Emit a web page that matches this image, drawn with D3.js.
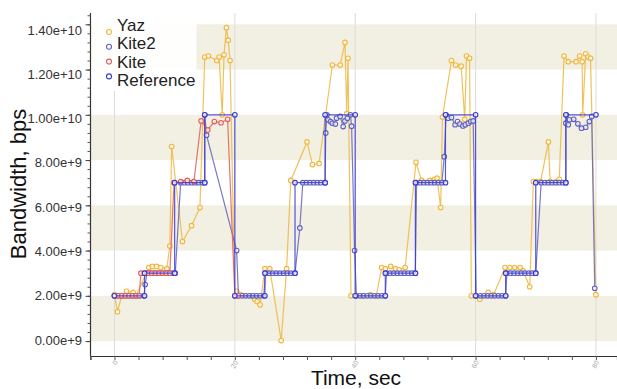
<!DOCTYPE html>
<html>
<head>
<meta charset="utf-8">
<script src="https://cdn.jsdelivr.net/npm/d3@7"></script>
<style>
  body { margin: 0; background: #fff; }
  svg { display: block; font-family: "Liberation Sans", Arial, sans-serif; }
</style>
</head>
<body>
<script>
// values in Gbps, time in sec
var yaz = [[0,2.05],[0.5,1.3],[1.2,2.0],[2.0,2.2],[3.1,2.15],[3.6,2.0],[5.7,3.25],[6.3,3.3],[7.0,3.3],[7.7,3.25],[8.7,3.2],[9.2,4.2],[9.5,8.6],[11.3,4.4],[12.8,5.1],[14.2,5.9],[15.0,12.55],[15.6,12.6],[17.0,12.4],[17.4,12.55],[17.9,10.0],[18.2,12.65],[18.6,13.85],[18.9,13.3],[19.2,12.4],[20.0,2.0],
  [20.3,2.2],[22.8,2.0],[23.3,1.85],[23.7,1.75],[24.2,1.6],[25.0,3.2],[25.8,3.2],[27.7,0.02],[28.6,3.2],[29.3,7.1],[32.0,8.8],[32.9,7.8],[34.0,7.85],[36.2,12.2],[37.5,12.2],[38.3,13.2],[38.6,10.05],[38.8,12.5],[39.3,2.0],
  [40.1,2.0],[41.2,2.0],[42.5,2.05],[43.5,2.0],[44.4,3.25],[45.0,3.2],[45.9,3.3],[46.7,3.2],[47.3,3.15],[48.3,3.25],[50.1,7.9],[51.0,7.1],[52.4,7.1],[53.2,7.15],[53.6,7.2],[54.2,5.9],[54.5,9.9],[56.0,12.4],[56.7,12.2],[57.6,12.15],[58.2,9.8],[58.5,12.6],[59.0,12.5],[59.3,2.0],
  [60.0,2.0],[60.7,1.85],[62.1,2.15],[63.0,2.05],[64.9,3.25],[65.7,3.25],[66.5,3.25],[67.4,3.25],[67.9,3.1],[69.0,2.4],[69.6,7.05],[70.2,7.05],[70.8,7.05],[72.1,8.8],[72.4,7.05],[73.4,7.05],[73.9,7.15],[74.7,12.6],[75.4,12.35],[76.7,12.35],[77.3,12.6],[77.7,12.35],[77.8,10.0],[78.3,12.7],[78.7,12.55],[79.1,12.5],[80.0,2.05]];

var kite2 = [[0,2],[0.6,2],[1.2,2],[1.8,2],[2.4,2],[3.0,2],[3.6,2],[4.2,2],[4.9,2],[5.1,2.5],[5.4,3],[6.0,3],[6.6,3],[7.2,3],[7.8,3],[8.4,3],[9.0,3],[9.6,3],[10.1,3],[11.0,7],[11.6,7],[12.2,7],[12.8,7],[13.4,7],[14.0,7],[14.6,7],[15.0,7],[15.0,10],[15.3,9.1],[20.3,4.0],
  [20.6,2],[21.2,2],[21.8,2],[22.4,2],[23.0,2],[23.6,2],[24.2,2],[24.8,2],[25.1,3],[25.7,3],[26.3,3],[26.9,3],[27.5,3],[28.1,3],[28.7,3],[29.3,3],[30.0,3],[30.8,5.0],[31.3,7],[31.9,7],[32.5,7],[33.1,7],[33.7,7],[34.3,7],[35.0,7],[35.1,9.2],[35.3,10],[35.5,9.78],[35.9,9.7],[36.2,9.63],[36.7,9.59],[36.9,9.85],[37.5,9.93],[38.0,9.48],[38.3,9.73],[38.7,9.85],[39.2,10.0],[39.4,9.5],[39.9,4.0],
  [40.2,2],[40.8,2],[41.4,2],[42.0,2],[42.6,2],[43.2,2],[43.8,2],[44.4,2],[45.0,2],[45.2,3],[45.8,3],[46.4,3],[47.0,3],[47.6,3],[48.2,3],[48.8,3],[49.4,3],[50.0,3],[50.2,7],[50.8,7],[51.4,7],[52.0,7],[52.6,7],[53.2,7],[53.8,7],[54.4,7],[54.8,8.15],[55.1,10],[55.45,9.85],[56.0,9.88],[56.6,9.56],[57.0,9.7],[57.4,9.59],[57.9,9.51],[58.3,9.56],[58.8,9.63],[59.2,9.7],[59.6,9.73],
  [60.1,2],[60.8,2],[61.4,2],[62.0,2],[62.6,2],[63.2,2],[63.8,2],[64.4,2],[65.0,2],[65.2,3],[65.8,3],[66.4,3],[67.0,3],[67.6,3],[68.2,3],[68.8,3],[69.4,3],[70.0,3],[70.9,7],[71.5,7],[72.1,7],[72.7,7],[73.3,7],[73.9,7],[74.5,7],[75.0,7],[75.0,9.63],[75.1,10],[75.4,9.56],[75.6,9.78],[76.3,9.8],[77.0,9.6],[77.6,9.41],[78.3,9.45],[78.9,9.7],[79.3,9.93],[79.8,2.33]];

var kite = [[0,2],[0.6,2],[1.2,2],[1.8,2],[2.4,2],[3.0,2],[3.6,2],[4.1,2],[4.4,3],[5.0,3],[5.6,3],[6.2,3],[6.8,3],[7.4,3],[8.0,3],[8.6,3],[9.2,3],[9.9,7.0],[11.0,7.05],[12.1,7.1],[13.2,7.05],[14.4,9.73],[15.5,9.33],[16.6,9.7],[17.7,9.65],[18.8,9.8],[20.0,2.0],[20.6,2.0]];

var reference = [[0,2],[5,2],[5,3],[10,3],[10,7],[15,7],[15,10],[20,10],[20,2],[25,2],[25,3],[30,3],[30,7],[35,7],[35,10],[40,10],[40,2],[45,2],[45,3],[50,3],[50,7],[55,7],[55,10],[60,10],[60,2],[65,2],[65,3],[70,3],[70,7],[75,7],[75,10],[80,10]];

var seriesNames = ["Yaz", "Kite2", "Kite", "Reference"];
var seriesColors = ["#efb73e", "#6161bd", "#e45c5c", "#3a3ad2"];
var xTicks = [0, 20, 40, 60, 80];
var yTicks = [0, 2, 4, 6, 8, 10, 12, 14];
var yTickLabels = ["0.00e+9", "2.00e+9", "4.00e+9", "6.00e+9", "8.00e+9", "1.00e+10", "1.20e+10", "1.40e+10"];
var bandStarts = [0, 4, 8, 12];

var W = 617, H = 389;
var svg = d3.select("body").append("svg").attr("width", W).attr("height", H);

var x = d3.scaleLinear().domain([-4, 83.5]).range([90.4, 617]);
var y = d3.scaleLinear().domain([-0.66e9, 14.5e9]).range([356, 13]);
// tick labels sit on a slightly tighter spacing in the original
var yLab = d3.scaleLinear().domain([0, 14e9]).range([340, 30]);

// bands
svg.append("g").selectAll("rect").data(bandStarts).join("rect")
  .attr("x", x(-4)).attr("width", W - x(-4))
  .attr("y", function(d) { return y((d + 2) * 1e9); })
  .attr("height", function(d) { return y(d * 1e9) - y((d + 2) * 1e9); })
  .attr("fill", "#f1f0e2");

// vertical grid
svg.append("g").selectAll("line").data(xTicks).join("line")
  .attr("x1", function(d) { return x(d); }).attr("x2", function(d) { return x(d); })
  .attr("y1", 13).attr("y2", 356)
  .attr("stroke", "#dcdcdc").attr("stroke-width", 1);

// x axis
var xMinor = d3.range(-4, 84, 4);
var xAxis = svg.append("g").attr("transform", "translate(0,356)")
  .call(d3.axisBottom(x).tickValues(xMinor).tickSize(4).tickFormat(""));
xAxis.select(".domain").attr("stroke", "#333").attr("stroke-width", 1.2);
xAxis.selectAll(".tick line").attr("stroke", "#555");
svg.append("g").selectAll("text").data(xTicks).join("text")
  .attr("transform", function(d) { return "translate(" + (x(d) + 1.5) + ",361) rotate(-60)"; })
  .attr("text-anchor", "end").attr("dy", "0.35em")
  .attr("font-size", 7).attr("fill", "#aaa")
  .text(function(d) { return d; });

// y axis: ticks
var yMinor = d3.range(0, 14.5, 0.4).map(function(v) { return v * 1e9; });
var yAxis = svg.append("g").attr("transform", "translate(90.5,0)")
  .call(d3.axisLeft(y).tickValues(yMinor).tickSize(3).tickFormat(""));
yAxis.select(".domain").attr("stroke", "#333").attr("stroke-width", 1.2).attr("d", "M0,13V356");
yAxis.selectAll(".tick line").attr("stroke", "#555");
svg.append("g").attr("transform", "translate(90.5,0)")
  .call(d3.axisLeft(y).tickValues(yTicks.map(function(v) { return v * 1e9; })).tickSize(5).tickFormat(""))
  .call(function(g) { g.select(".domain").remove(); g.selectAll(".tick line").attr("stroke", "#444"); });
// y labels
svg.append("g").selectAll("text").data(yTicks).join("text")
  .attr("x", 82).attr("y", function(d) { return yLab(d * 1e9); })
  .attr("dy", "0.35em").attr("text-anchor", "end")
  .attr("font-size", 13).attr("fill", "#333")
  .text(function(d, i) { return yTickLabels[i]; });

// series
var allSeries = [yaz, kite2, kite, reference];
var line = d3.line()
  .x(function(d) { return x(d[0]); })
  .y(function(d) { return y(d[1] * 1e9); });

allSeries.forEach(function(data, i) {
  var g = svg.append("g");
  g.append("path").datum(data)
    .attr("d", line).attr("fill", "none")
    .attr("stroke", seriesColors[i]).attr("stroke-width", 1.2).attr("stroke-opacity", 0.85);
  g.selectAll("circle").data(data).join("circle")
    .attr("cx", function(d) { return x(d[0]); })
    .attr("cy", function(d) { return y(d[1] * 1e9); })
    .attr("r", 2.3)
    .attr("fill", "#fff").attr("fill-opacity", 0.7)
    .attr("stroke", seriesColors[i]).attr("stroke-width", 1.1);
});

// legend
var legend = svg.append("g");
legend.append("rect").attr("x", 91.5).attr("y", 13).attr("width", 105).attr("height", 78)
  .attr("fill", "#fff").attr("fill-opacity", 0.92);
seriesNames.forEach(function(name, i) {
  legend.append("circle").attr("cx", 109).attr("cy", 32 + i * 14.8).attr("r", 2.5)
    .attr("fill", "#fff").attr("stroke", seriesColors[i]).attr("stroke-width", 1.1);
  legend.append("text").attr("x", 117).attr("y", 31 + i * 18.3)
    .attr("font-size", 17).attr("fill", "#222").text(name);
});

// axis titles
svg.append("text").attr("transform", "translate(26,184) rotate(-90)")
  .attr("text-anchor", "middle").attr("font-size", 22).attr("fill", "#111")
  .text("Bandwidth, bps");
svg.append("text").attr("x", 356).attr("y", 385)
  .attr("text-anchor", "middle").attr("font-size", 21).attr("fill", "#111")
  .text("Time, sec");
</script>
</body>
</html>
